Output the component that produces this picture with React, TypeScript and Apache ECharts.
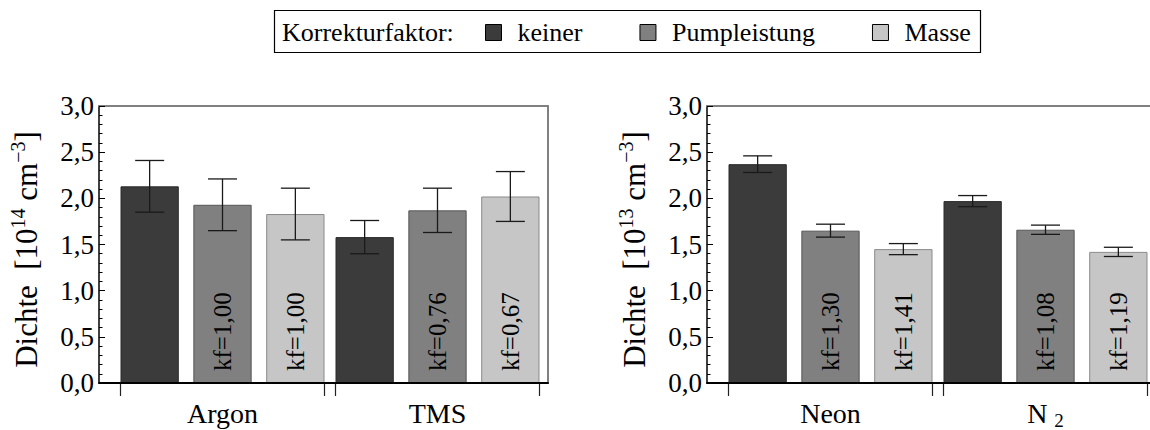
import { useEffect, useRef } from 'react';
import * as echarts from 'echarts';

// quoted: the family name contains the generic keyword "Serif"
const FONT = "'Liberation Serif'";

// Series (correction factor applied) and their fills
const seriesNames = ['keiner', 'Pumpleistung', 'Masse'];
const seriesFill = ['#3b3b3b', '#808080', '#c6c6c6'];
const seriesBorder = ['#2a2a2a', '#555555', '#8a8a8a'];

// Left panel: densities in 10^14 cm^-3
const leftCategories = ['Argon', 'TMS'];
const leftKeiner = [2.13, 1.58];
const leftPump = [1.93, 1.87];
const leftMasse = [1.83, 2.02];
const leftKeinerErr = [0.28, 0.18];
const leftPumpErr = [0.28, 0.24];
const leftMasseErr = [0.28, 0.27];
const leftKfPump = [1.0, 0.76];
const leftKfMasse = [1.0, 0.67];
const leftExponent = '14';

// Right panel: densities in 10^13 cm^-3
const rightCategories = ['Neon', 'N2'];
const rightKeiner = [2.37, 1.97];
const rightPump = [1.65, 1.66];
const rightMasse = [1.45, 1.42];
const rightKeinerErr = [0.09, 0.06];
const rightPumpErr = [0.07, 0.05];
const rightMasseErr = [0.06, 0.05];
const rightKfPump = [1.3, 1.08];
const rightKfMasse = [1.41, 1.19];
const rightExponent = '13';

// Value axis
const yMin = 0;
const yMax = 3;
const yStep = 0.5;

// Layout (px)
const PANEL_LEFT = [99, 707];
const PANEL_W = 449;
const PLOT_TOP = 106;
const PLOT_H = 277;
const GROUP_OFFSET = [21.5, 236.5];
const GROUP_W = 204;
const BAR_GAP = 0.25;
const CAP_HALF = 14.5;

const panels = [
  {
    categories: leftCategories,
    values: [leftKeiner, leftPump, leftMasse],
    errors: [leftKeinerErr, leftPumpErr, leftMasseErr],
    kf: [null, leftKfPump, leftKfMasse],
    exponent: leftExponent,
  },
  {
    categories: rightCategories,
    values: [rightKeiner, rightPump, rightMasse],
    errors: [rightKeinerErr, rightPumpErr, rightMasseErr],
    kf: [null, rightKfPump, rightKfMasse],
    exponent: rightExponent,
  },
];

const comma = (v: number, digits: number) => v.toFixed(digits).replace('.', ',');

function categoryLabel(v: string) {
  if (v === 'N2') return '{t|N }{sub|2}';
  return `{t|${v}}`;
}

function errorBarRenderItem(params: any, api: any) {
  const k = api.value(1);
  const lo = api.coord([api.value(0), api.value(2)]);
  const hi = api.coord([api.value(0), api.value(3)]);
  const band = api.size([1, 0])[0];
  const barW = band / (3 + 2 * BAR_GAP);
  const x = lo[0] + (k - 1) * barW * (1 + BAR_GAP);
  const style = { stroke: '#1a1a1a', lineWidth: 1.3 };
  return {
    type: 'group',
    children: [
      { type: 'line', shape: { x1: x, y1: lo[1], x2: x, y2: hi[1] }, style },
      { type: 'line', shape: { x1: x - CAP_HALF, y1: hi[1], x2: x + CAP_HALF, y2: hi[1] }, style },
      { type: 'line', shape: { x1: x - CAP_HALF, y1: lo[1], x2: x + CAP_HALF, y2: lo[1] }, style },
    ],
  };
}

function buildOption() {
  const grid: any[] = [];
  const xAxis: any[] = [];
  const yAxis: any[] = [];
  const series: any[] = [];

  panels.forEach((panel, p) => {
    const left = PANEL_LEFT[p];
    const frame = grid.length;
    grid.push({ left, top: PLOT_TOP, width: PANEL_W, height: PLOT_H, outerBoundsMode: 'none' });

    // frame: bottom axis line, grey top line
    xAxis.push({
      gridIndex: frame, type: 'value', min: 0, max: 1, position: 'bottom', z: 6,
      axisLine: { show: true, onZero: false, lineStyle: { color: '#000', width: 2 } },
      axisTick: { show: false }, axisLabel: { show: false }, splitLine: { show: false },
    });
    xAxis.push({
      gridIndex: frame, type: 'value', min: 0, max: 1, position: 'top', z: 6,
      axisLine: { show: true, onZero: false, lineStyle: { color: '#808080', width: 2 } },
      axisTick: { show: false }, axisLabel: { show: false }, splitLine: { show: false },
    });
    // frame: value axis on the left, grey line on the right
    yAxis.push({
      gridIndex: frame, type: 'value', min: yMin, max: yMax, interval: yStep, position: 'left', z: 6,
      axisLine: { show: true, onZero: false, lineStyle: { color: '#000', width: 1.5 } },
      axisTick: { show: true, inside: true, length: 6, lineStyle: { color: '#000', width: 1 } },
      minorTick: { show: true, splitNumber: 5, length: 3.5, lineStyle: { color: '#000', width: 1 } },
      axisLabel: {
        margin: 5, fontFamily: FONT, fontSize: 27, color: '#000',
        formatter: (v: number) => comma(v, 1),
      },
      splitLine: { show: false }, minorSplitLine: { show: false },
      name: `{a|Dichte  [10}{s|${panel.exponent}}{a| cm}{s|\u22123}{a|]}`,
      nameLocation: 'middle', nameRotate: 90, nameGap: 54,
      nameTextStyle: {
        fontFamily: FONT, fontSize: 31, color: '#000', padding: [0, 10, 0, 0],
        rich: {
          a: { fontFamily: FONT, fontSize: 31, lineHeight: 37, color: '#000' },
          s: { fontFamily: FONT, fontSize: 20, lineHeight: 20, verticalAlign: 'top', color: '#000' },
        },
      },
    });
    yAxis.push({
      gridIndex: frame, type: 'value', min: yMin, max: yMax, position: 'right', z: 6,
      axisLine: { show: true, onZero: false, lineStyle: { color: '#808080', width: 2 } },
      axisTick: { show: false }, axisLabel: { show: false }, splitLine: { show: false },
    });

    panel.categories.forEach((cat, g) => {
      const gi = grid.length;
      grid.push({
        left: left + GROUP_OFFSET[g], top: PLOT_TOP, width: GROUP_W, height: PLOT_H, outerBoundsMode: 'none',
      });
      const xi = xAxis.length;
      xAxis.push({
        gridIndex: gi, type: 'category', data: [cat], position: 'bottom',
        axisLine: { show: false },
        axisTick: { show: true, inside: false, length: 13, lineStyle: { color: '#222', width: 1.2 } },
        axisLabel: {
          margin: 13, fontFamily: FONT, color: '#000',
          formatter: categoryLabel,
          rich: {
            t: { fontFamily: FONT, fontSize: 28, lineHeight: 34, color: '#000' },
            sub: { fontFamily: FONT, fontSize: 19, lineHeight: 21, verticalAlign: 'bottom', color: '#000' },
          },
        },
        splitLine: { show: false },
      });
      const yi = yAxis.length;
      yAxis.push({ gridIndex: gi, type: 'value', min: yMin, max: yMax, show: false, splitLine: { show: false } });

      panel.values.forEach((vals, s) => {
        const kf = panel.kf[s];
        series.push({
          type: 'bar',
          name: seriesNames[s],
          xAxisIndex: xi,
          yAxisIndex: yi,
          data: [vals[g]],
          barGap: `${BAR_GAP * 100}%`,
          barCategoryGap: 0,
          itemStyle: { color: seriesFill[s], borderColor: seriesBorder[s], borderWidth: 1 },
          label: kf
            ? {
                show: true, position: 'insideBottom', rotate: 90, align: 'left', verticalAlign: 'middle',
                distance: 12, fontFamily: FONT, fontSize: 25, color: '#000',
                formatter: `kf=${comma(kf[g], 2)}`,
              }
            : { show: false },
          silent: true,
        });
      });

      series.push({
        type: 'custom',
        xAxisIndex: xi,
        yAxisIndex: yi,
        z: 4,
        silent: true,
        encode: { x: 0, y: [2, 3] },
        data: panel.values.map((vals, s) => [0, s, vals[g] - panel.errors[s][g], vals[g] + panel.errors[s][g]]),
        renderItem: errorBarRenderItem,
      });
    });
  });

  return {
    animation: false,
    backgroundColor: '#fff',
    textStyle: { fontFamily: FONT },
    grid,
    xAxis,
    yAxis,
    series,
    legend: {
      data: seriesNames,
      left: 485,
      top: 19.5,
      padding: 0,
      itemWidth: 16,
      itemHeight: 16,
      itemGap: 57,
      icon: 'rect',
      selectedMode: false,
      itemStyle: { borderColor: '#000', borderWidth: 1 },
      textStyle: { fontFamily: FONT, fontSize: 26, color: '#000', padding: [0, 0, 0, 11] },
    },
    graphic: [
      {
        type: 'rect',
        silent: true,
        shape: { x: 274.5, y: 10.5, width: 706, height: 42 },
        style: { fill: 'none', stroke: '#000', lineWidth: 1.2 },
      },
      {
        type: 'text',
        silent: true,
        x: 282,
        y: 32,
        style: { text: 'Korrekturfaktor:', font: `26px ${FONT}`, fill: '#000', verticalAlign: 'middle' },
      },
    ],
  };
}

export default function App() {
  const ref = useRef<HTMLDivElement>(null);
  useEffect(() => {
    if (!ref.current) return;
    const chart = echarts.init(ref.current, undefined, { renderer: 'svg' });
    chart.setOption(buildOption() as any);
    return () => chart.dispose();
  }, []);
  return (
    <div
      ref={ref}
      style={{ position: 'fixed', left: 0, top: 0, width: 1150, height: 430, background: '#fff' }}
    />
  );
}
